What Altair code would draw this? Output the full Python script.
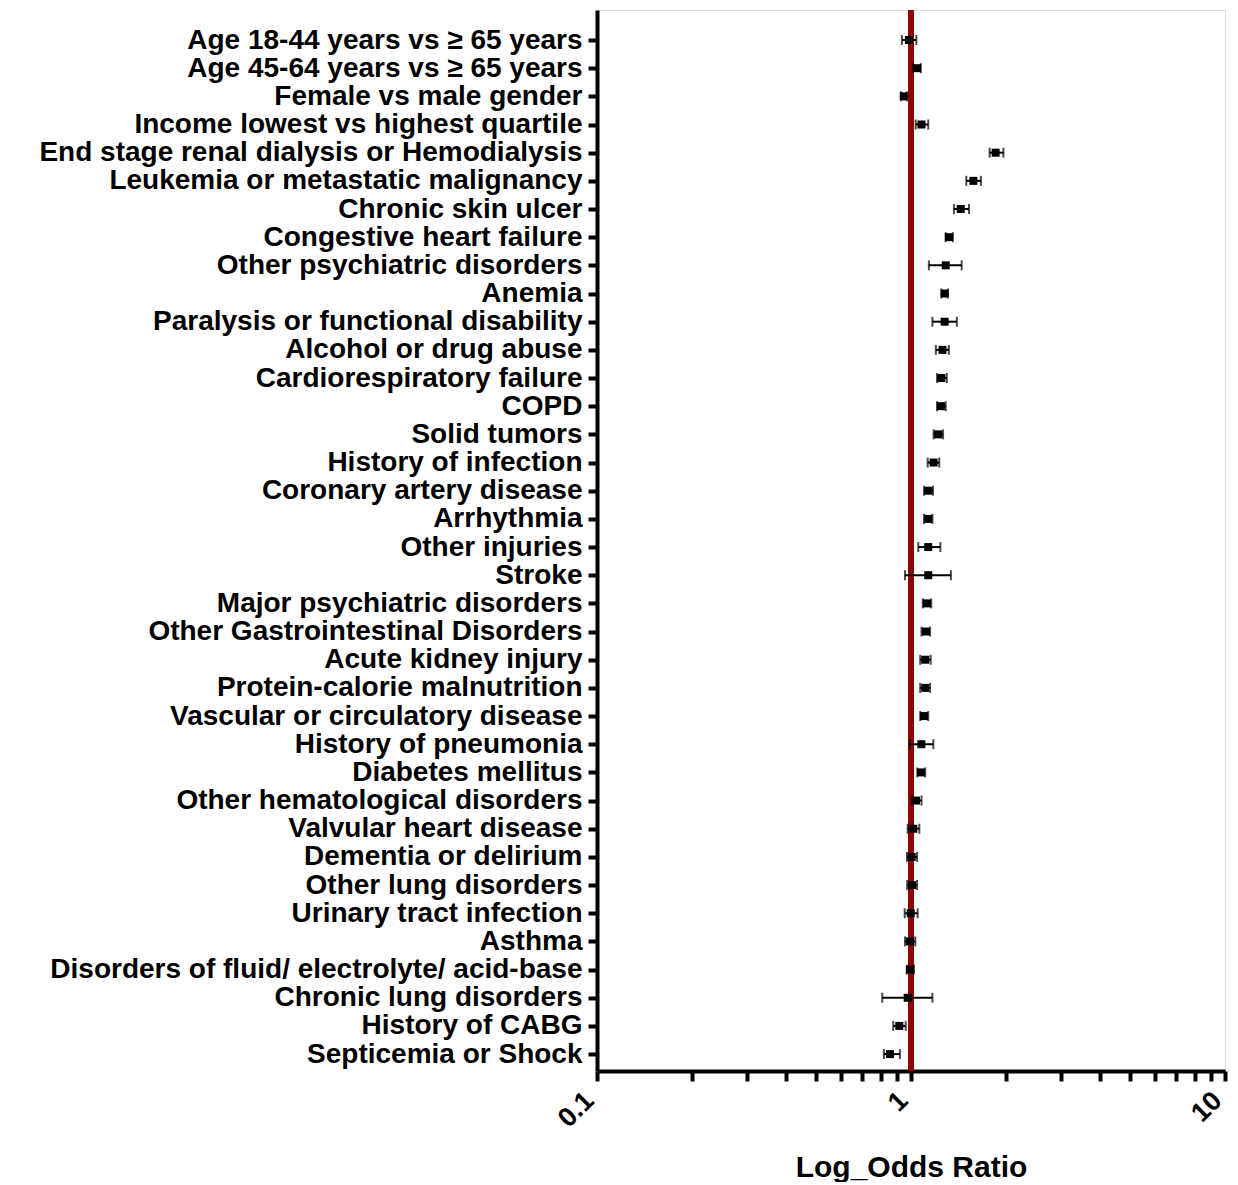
import json
import altair as alt
import pandas as pd

categories = [
    "Age 18-44 years vs \u2265 65 years",
    "Age 45-64 years vs \u2265 65 years",
    "Female vs male gender",
    "Income lowest vs highest quartile",
    "End stage renal dialysis or Hemodialysis",
    "Leukemia or metastatic malignancy",
    "Chronic skin ulcer",
    "Congestive heart failure",
    "Other psychiatric disorders",
    "Anemia",
    "Paralysis or functional disability",
    "Alcohol or drug abuse",
    "Cardiorespiratory failure",
    "COPD",
    "Solid tumors",
    "History of infection",
    "Coronary artery disease",
    "Arrhythmia",
    "Other injuries",
    "Stroke",
    "Major psychiatric disorders",
    "Other Gastrointestinal Disorders",
    "Acute kidney injury",
    "Protein-calorie malnutrition",
    "Vascular or circulatory disease",
    "History of pneumonia",
    "Diabetes mellitus",
    "Other hematological disorders",
    "Valvular heart disease",
    "Dementia or delirium",
    "Other lung disorders",
    "Urinary tract infection",
    "Asthma",
    "Disorders of fluid/ electrolyte/ acid-base",
    "Chronic lung disorders",
    "History of CABG",
    "Septicemia or Shock",
]
odds_ratio = [0.985, 1.045, 0.948, 1.08, 1.86, 1.58, 1.44, 1.32, 1.29, 1.28,
              1.28, 1.26, 1.25, 1.245, 1.22, 1.18, 1.135, 1.135, 1.135, 1.135,
              1.124, 1.116, 1.11, 1.11, 1.10, 1.079, 1.076, 1.037, 1.017, 1.005,
              1.007, 0.998, 0.993, 0.993, 0.976, 0.918, 0.857]
ci_lower = [0.935, 1.015, 0.93, 1.035, 1.78, 1.50, 1.37, 1.29, 1.14, 1.25,
            1.17, 1.20, 1.21, 1.21, 1.18, 1.13, 1.10, 1.10, 1.055, 0.957,
            1.09, 1.08, 1.07, 1.07, 1.07, 0.99, 1.047, 1.005, 0.976, 0.971,
            0.972, 0.955, 0.957, 0.969, 0.81, 0.878, 0.82]
ci_upper = [1.04, 1.075, 0.97, 1.135, 1.97, 1.67, 1.53, 1.36, 1.45, 1.31,
            1.40, 1.32, 1.30, 1.29, 1.265, 1.23, 1.175, 1.17, 1.24, 1.34,
            1.16, 1.15, 1.155, 1.15, 1.135, 1.178, 1.11, 1.08, 1.063, 1.045,
            1.045, 1.05, 1.032, 1.022, 1.17, 0.962, 0.922]
x_tick_values = [0.1, 0.2, 0.3, 0.4, 0.5, 0.6, 0.7, 0.8, 0.9, 1,
                 2, 3, 4, 5, 6, 7, 8, 9, 10]
reference_value = [1]

df = pd.DataFrame({
    "idx": list(range(len(categories))),
    "cat": categories,
    "or": odds_ratio,
    "lo": ci_lower,
    "hi": ci_upper,
})
ref_df = pd.DataFrame({"ref": reference_value})

FONT = "Liberation Sans"

xscale = alt.Scale(type="log", domain=[0.1, 10], nice=False)
yscale = alt.Scale(domain=[-1.065, 36.6], reverse=True, nice=False, zero=False)

x_axis = alt.Axis(
    title="Log_Odds Ratio",
    values=x_tick_values,
    labelExpr="datum.value == 0.1 ? '0.1' : (datum.value == 1 ? '1' : (datum.value == 10 ? '10' : ''))",
    labelAngle=315, labelAlign="right", labelBaseline="bottom",
    labelFont=FONT, labelFontSize=27, labelFontWeight="bold", labelColor="black",
    labelPadding=25, labelOffset=2, labelOverlap=False, labelFlush=False,
    tickSize=10, tickWidth=4, tickColor="black",
    domainWidth=4, domainColor="black", grid=False,
    titleFont=FONT, titleFontSize=30, titleFontWeight="bold", titleColor="black",
    titleY=105, titleBaseline="alphabetic",
)
y_axis = alt.Axis(
    title=None,
    values=list(range(len(categories))),
    labelExpr=json.dumps(categories) + "[datum.value]",
    labelFont=FONT, labelFontSize=28, labelFontWeight="bold", labelColor="black",
    labelPadding=6, labelOverlap=False, labelFlush=False, labelBound=False,
    labelLimit=1000,
    tickSize=9, tickWidth=4, tickColor="black",
    domainWidth=4, domainColor="black", grid=False,
)

X = lambda f: alt.X(f, scale=xscale, axis=x_axis)
Y = lambda: alt.Y("idx:Q", scale=yscale, axis=y_axis)

ref_line = alt.Chart(ref_df).mark_rule(color="#910404", strokeWidth=6).encode(
    x=X("ref:Q"),
)

base = alt.Chart(df)
ci = base.mark_rule(color="black", strokeWidth=2).encode(
    x=X("lo:Q"), x2="hi:Q", y=Y(),
)
cap_lo = base.mark_tick(color="black", orient="vertical", size=10, thickness=2).encode(
    x=X("lo:Q"), y=Y(),
)
cap_hi = base.mark_tick(color="black", orient="vertical", size=10, thickness=2).encode(
    x=X("hi:Q"), y=Y(),
)
pts = base.mark_square(color="black", size=64, opacity=1).encode(
    x=X("or:Q"), y=Y(),
)

chart = alt.layer(ref_line, ci, cap_lo, cap_hi, pts).properties(
    width=628, height=1061,
    autosize=alt.AutoSizeParams(type="none"),
    padding={"left": 589, "top": 2, "right": 4, "bottom": 111},
).configure_view(stroke=None).configure_axis(labelOverlap=False).configure(background="white")

chart.save("out.html", embed_options={"renderer": "svg", "actions": False})
